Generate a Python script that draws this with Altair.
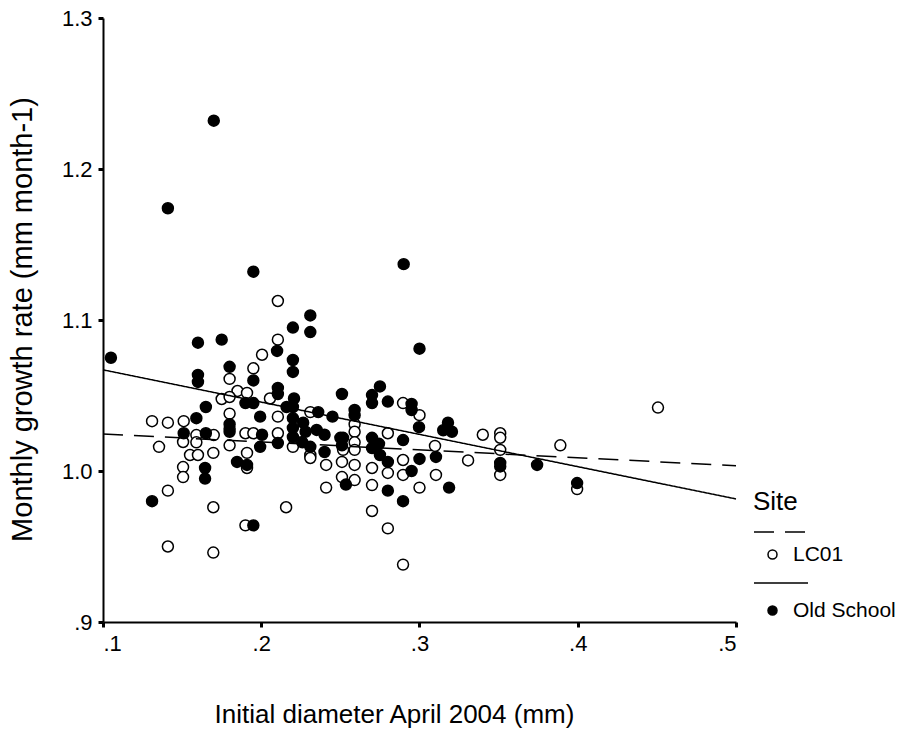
import altair as alt
import pandas as pd

FONT = "Liberation Sans"

sites = ["LC01", "Old School"]

# LC01 (open circles)
lc_x = [0.2105, 0.2105, 0.2005, 0.195, 0.180, 0.185, 0.191, 0.175, 0.180, 0.131,
        0.141, 0.151, 0.1354, 0.1506, 0.159, 0.170, 0.155, 0.160, 0.1697, 0.180,
        0.180, 0.180, 0.1506, 0.1506, 0.191, 0.191, 0.190, 0.195, 0.141, 0.1697,
        0.190, 0.141, 0.1697, 0.159, 0.2055, 0.231, 0.2105, 0.2105, 0.220, 0.2245,
        0.231, 0.231, 0.241, 0.251, 0.251, 0.241, 0.2157, 0.2896, 0.300, 0.259,
        0.259, 0.280, 0.3098, 0.259, 0.259, 0.2517, 0.2896, 0.259, 0.270, 0.280,
        0.2896, 0.3104, 0.259, 0.270, 0.300, 0.270, 0.280, 0.2896, 0.3307, 0.340,
        0.351, 0.351, 0.351, 0.351, 0.389, 0.3996, 0.4507]
lc_y = [1.1126, 1.087, 1.077, 1.068, 1.061, 1.053, 1.0517, 1.0477, 1.049, 1.033,
        1.032, 1.033, 1.016, 1.0192, 1.0238, 1.0238, 1.0106, 1.0106, 1.012, 1.038,
        1.028, 1.017, 1.0026, 0.996, 1.002, 1.012, 1.025, 1.025, 0.987, 0.976,
        0.964, 0.950, 0.946, 1.019, 1.048, 1.039, 1.036, 1.025, 1.016, 1.026,
        1.0106, 1.0086, 1.004, 1.006, 0.996, 0.989, 0.976, 1.045, 1.037, 1.031,
        1.026, 1.025, 1.0166, 1.019, 1.014, 1.014, 1.0073, 1.004, 1.002, 0.9987,
        0.9974, 0.9974, 0.994, 0.9907, 0.989, 0.9735, 0.962, 0.938, 1.007, 1.024,
        1.025, 1.022, 1.014, 0.9974, 1.017, 0.988, 1.042]

# Old School (filled circles)
os_x = [0.105, 0.170, 0.141, 0.195, 0.290, 0.231, 0.220, 0.231, 0.160, 0.175,
        0.210, 0.300, 0.220, 0.220, 0.180, 0.195, 0.160, 0.160, 0.2105, 0.190,
        0.195, 0.165, 0.159, 0.151, 0.165, 0.1993, 0.1993, 0.1645, 0.1645, 0.1847,
        0.191, 0.131, 0.195, 0.180, 0.180, 0.2207, 0.220, 0.216, 0.236, 0.251,
        0.245, 0.220, 0.2265, 0.220, 0.235, 0.240, 0.250, 0.2005, 0.2105, 0.220,
        0.226, 0.231, 0.240, 0.251, 0.2535, 0.275, 0.270, 0.270, 0.280, 0.295,
        0.295, 0.2997, 0.315, 0.259, 0.259, 0.2896, 0.270, 0.2744, 0.2517, 0.270,
        0.275, 0.280, 0.300, 0.3104, 0.295, 0.280, 0.2896, 0.3187, 0.318, 0.3205,
        0.351, 0.351, 0.3743, 0.3996, 0.2105, 0.228]
os_y = [1.075, 1.232, 1.174, 1.132, 1.137, 1.103, 1.095, 1.092, 1.085, 1.087,
        1.0795, 1.081, 1.0735, 1.0656, 1.069, 1.060, 1.0636, 1.059, 1.051, 1.045,
        1.045, 1.0424, 1.035, 1.025, 1.025, 1.036, 1.016, 1.002, 0.995, 1.006,
        1.004, 0.980, 0.964, 1.031, 1.026, 1.048, 1.0424, 1.0424, 1.039, 1.051,
        1.036, 1.035, 1.032, 1.0285, 1.0272, 1.024, 1.022, 1.024, 1.0185, 1.0225,
        1.019, 1.016, 1.0126, 1.017, 0.991, 1.056, 1.0503, 1.045, 1.046, 1.0444,
        1.0404, 1.029, 1.027, 1.0404, 1.037, 1.0205, 1.022, 1.018, 1.022, 1.0152,
        1.0106, 1.006, 1.008, 1.0093, 1.000, 0.987, 0.980, 0.989, 1.032, 1.026,
        1.0053, 1.003, 1.004, 0.992, 1.055, 1.026]

# Fit lines (endpoints over the axis range)
fit_x = [0.1, 0.5]
fit_lc = [1.0245, 1.0035]
fit_os = [1.067, 0.9815]

x_ticks = [0.1, 0.2, 0.3, 0.4, 0.5]
y_ticks = [0.9, 1.0, 1.1, 1.2, 1.3]

points = pd.DataFrame({
    "x": lc_x + os_x,
    "y": lc_y + os_y,
    "Site": [sites[0]] * len(lc_x) + [sites[1]] * len(os_x),
})
fits = pd.DataFrame({
    "x": fit_x + fit_x,
    "y": fit_lc + fit_os,
    "Fit": [sites[0]] * 2 + [sites[1]] * 2,
})

label_expr = "replace(format(datum.value, '.1f'), '0.', '.')"

x_enc = alt.X(
    "x:Q",
    scale=alt.Scale(domain=[0.1, 0.5], nice=False, zero=False),
    axis=alt.Axis(
        values=x_ticks, labelExpr=label_expr, title="Initial diameter April 2004 (mm)",
        grid=False, domainColor="black", domainWidth=2, tickColor="black",
        tickSize=5, tickWidth=3, labelFont=FONT, labelFontSize=22, labelColor="black",
        labelPadding=6, titleFont=FONT, titleFontSize=26, titleFontWeight="normal",
        titleColor="black", titleX=291, titleY=92, titleBaseline="middle",
        titleAlign="center",
    ),
)
y_enc = alt.Y(
    "y:Q",
    scale=alt.Scale(domain=[0.9, 1.3], nice=False, zero=False),
    axis=alt.Axis(
        values=y_ticks, labelExpr=label_expr, title="Monthly growth rate (mm month-1)",
        grid=False, domainColor="black", domainWidth=2, tickColor="black",
        tickSize=5, tickWidth=3, labelFont=FONT, labelFontSize=22, labelColor="black",
        labelPadding=6, titleFont=FONT, titleFontSize=29, titleFontWeight="normal",
        titleColor="black", titleX=-81, titleY=301, titleBaseline="middle",
        titleAlign="center", titleAngle=270,
    ),
)

pts = alt.Chart(points).mark_point(
    filled=True, shape="circle", size=120, stroke="black", strokeWidth=1.5, opacity=1
).encode(
    x=x_enc,
    y=y_enc,
    fill=alt.Fill(
        "Site:N",
        scale=alt.Scale(domain=sites, range=["white", "black"]),
        legend=alt.Legend(
            title=None, orient="none", legendX=659, legendY=526,
            symbolType="circle", symbolSize=81, symbolStrokeColor="black",
            symbolStrokeWidth=1.5, symbolOpacity=1, labelFont=FONT, labelFontSize=21,
            labelColor="black", labelOffset=10, rowPadding=34,
        ),
    ),
)

lines = alt.Chart(fits).mark_line(color="black", strokeWidth=1.5).encode(
    x=x_enc,
    y=y_enc,
    strokeDash=alt.StrokeDash(
        "Fit:N",
        scale=alt.Scale(range=[[20, 11], [1, 0]]),
        legend=alt.Legend(
            title="Site", titleFont=FONT, titleFontSize=26, titleFontWeight="normal",
            titleColor="black", titlePadding=-11, orient="none", legendX=650, legendY=471,
            symbolType="stroke", symbolSize=2916, symbolStrokeColor="black",
            symbolStrokeWidth=1.5, labelExpr="''", rowPadding=18,
        ),
    ),
)

chart = alt.layer(pts, lines).properties(
    width=633,
    height=604,
    padding={"left": 103, "top": 18, "right": 164, "bottom": 112},
    autosize=alt.AutoSizeParams(type="none"),
    background="white",
).configure_view(strokeWidth=0).configure_axis(labelFontSize=22, labelFont=FONT)

chart.save("out.html", embed_options={"renderer": "svg", "actions": False})
